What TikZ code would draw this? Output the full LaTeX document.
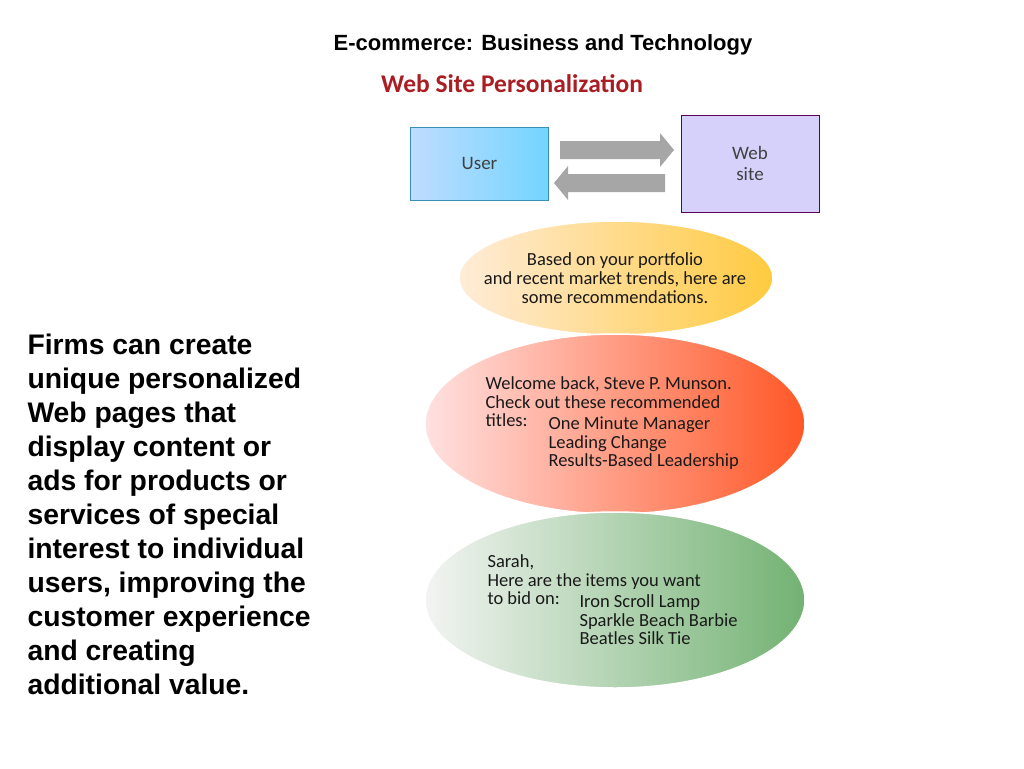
\documentclass[tikz,border=0pt]{standalone}
\usepackage{fontspec}
\setmainfont{Liberation Sans}
\newfontfamily\carl{Carlito}
\usetikzlibrary{shapes.geometric}
\definecolor{titlered}{RGB}{170,30,35}
\tikzset{
 box/.style={draw=#1!70!black,line width=1pt,inner sep=0pt,font=\carl\fontsize{19}{21}\selectfont,text=black!75,align=center},
 ell/.style={ellipse,draw=white,line width=1.5pt,inner sep=0pt},
 etext/.style={font=\carl\fontsize{18.5}{18.8}\selectfont,align=left,text=black!90,anchor=north west},
}
\begin{document}
\begin{tikzpicture}[x=1pt,y=-1pt]
\useasboundingbox (0,0) rectangle (1024,768);
\node[font=\bfseries\fontsize{22}{24}\selectfont] (t) at (543,45) {E-commerce: Business and Technology};
\node[font=\carl\bfseries\fontsize{25.5}{28}\selectfont,text=titlered] (st) at (512,84) {Web Site Personalization};
% boxes
\node[box=cyan,minimum width=138pt,minimum height=73pt,left color=cyan!45!blue!25,right color=cyan!70!blue!55] (user) at (479.5,163.5) {User};
\node[box=violet,minimum width=138pt,minimum height=97pt,fill=violet!22!blue!18] (web) at (750,163.5) {Web\\site};
% arrows
\fill[gray!70] (560,141) -- (660,141) -- (660,133) -- (674,150) -- (660,167) -- (660,159) -- (560,159) -- cycle;
\fill[gray!70] (665,174) -- (568,174) -- (568,166) -- (554,183) -- (568,200) -- (568,192) -- (665,192) -- cycle;
% ellipses
\node[ell,minimum width=314pt,minimum height=114pt,left color=orange!15,right color=orange!55!yellow!75] (e1) at (616,278) {};
\node[ell,minimum width=380pt,minimum height=180pt,left color=red!12,right color=red!55!orange!85] (e2) at (615,424) {};
\node[ell,minimum width=380pt,minimum height=176pt,left color=green!15!black!5,right color=green!45!black!55] (e3) at (615,600) {};
\node[font=\carl\fontsize{18.5}{18.8}\selectfont,align=center,text=black!90] (x1) at (615,278) {Based on your portfolio\\and recent market trends, here are\\some recommendations.};
\node[etext] (x2) at (482,373) {Welcome back, Steve P. Munson.\\Check out these recommended\\titles:};
\node[etext] (x2b) at (545,413) {One Minute Manager\\Leading Change\\Results-Based Leadership};
\node[etext] (x3) at (484,551) {Sarah,\\Here are the items you want\\to bid on:};
\node[etext] (x3b) at (576,591) {Iron Scroll Lamp\\Sparkle Beach Barbie\\Beatles Silk Tie};
% left text
\node[anchor=north west,align=left,font=\bfseries\fontsize{28.3}{34}\selectfont] (lt) at (24,330) {Firms can create\\unique personalized\\Web pages that\\display content or\\ads for products or\\services of special\\interest to individual\\users, improving the\\customer experience\\and creating\\additional value.};
\end{tikzpicture}
\end{document}
